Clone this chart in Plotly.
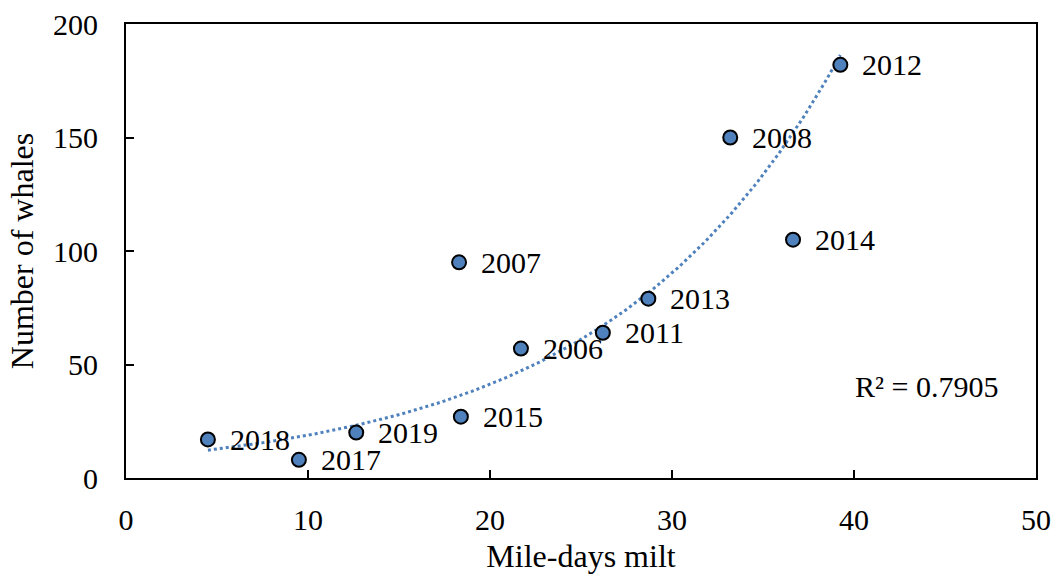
import numpy as np
import plotly.graph_objects as go

years = ["2018", "2017", "2019", "2015", "2007", "2006", "2011", "2013", "2008", "2014", "2012"]
mile_days = [4.5, 9.5, 12.65, 18.4, 18.3, 21.7, 26.2, 28.7, 33.2, 36.65, 39.25]
whales = [17, 8, 20, 27, 95, 57, 64, 79, 150, 105, 182]

x = np.array(mile_days)
y = np.array(whales)
b, ln_a = np.polyfit(x, np.log(y), 1)
xt = np.linspace(x.min(), x.max(), 200)
yt = np.exp(ln_a) * np.exp(b * xt)

FONT = "Liberation Serif"
BLUE = "#4F81BD"

fig = go.Figure()
fig.add_trace(go.Scatter(x=xt, y=yt, mode="lines",
                         line=dict(color=BLUE, width=3, dash="dot"),
                         hoverinfo="skip", showlegend=False))
fig.add_trace(go.Scatter(x=mile_days, y=whales, mode="markers",
                         marker=dict(size=14, color=BLUE, line=dict(color="black", width=2)),
                         showlegend=False))
for xi, yi, t in zip(mile_days, whales, years):
    fig.add_annotation(x=xi, y=yi, text=t, showarrow=False, xanchor="left", yanchor="middle",
                       xshift=20, font=dict(family=FONT, size=30, color="black"))

fig.add_annotation(x=(926 - 126) / 910, y=(478 - 386) / 454, xref="x domain", yref="y domain",
                   text="R² = 0.7905", showarrow=False, xanchor="center", yanchor="middle",
                   font=dict(family=FONT, size=30, color="black"))

axis_common = dict(showgrid=False, zeroline=False, showline=True, linecolor="black", linewidth=2,
                   mirror=True, ticks="inside", ticklen=8, tickwidth=2, tickcolor="black",
                   automargin=False,
                   tickfont=dict(family=FONT, size=30, color="black"))
fig.update_xaxes(range=[0, 50], dtick=10, ticklabelstandoff=14,
                 title=dict(text="Mile-days milt", font=dict(family=FONT, size=32, color="black"), standoff=10),
                 **axis_common)
fig.update_yaxes(range=[0, 200], dtick=50, ticklabelstandoff=20,
                 title=dict(text="Number of whales", font=dict(family=FONT, size=32, color="black"), standoff=10),
                 **axis_common)

fig.update_layout(width=1057, height=577, margin=dict(l=126, r=21, t=24, b=99),
                  plot_bgcolor="white", paper_bgcolor="white", font=dict(family=FONT, color="black"))
fig.write_html("out.html", config={"displayModeBar": False},
               post_script="document.body.style.margin='0';")
